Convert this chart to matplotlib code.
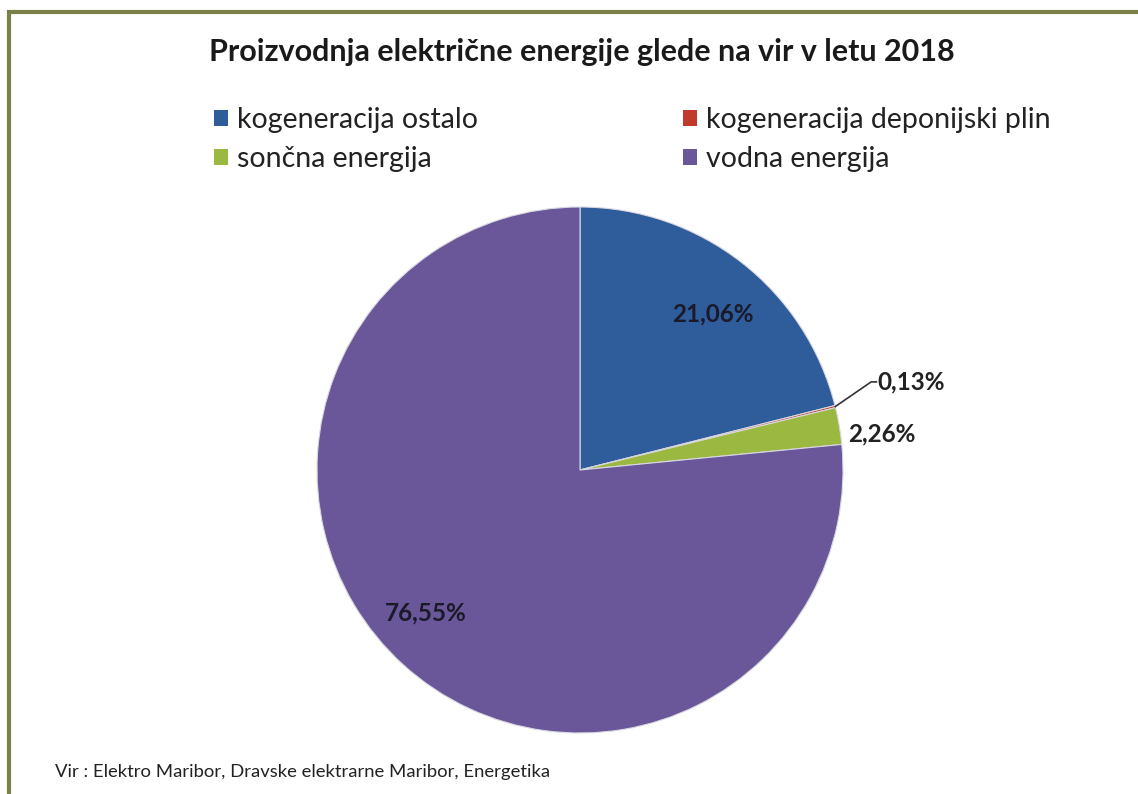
import numpy as np
import matplotlib
matplotlib.use("Agg")
import matplotlib.pyplot as plt
from matplotlib.patches import Rectangle, Patch

plt.rcParams['font.family'] = ['Lato', 'DejaVu Sans']

title = "Proizvodnja električne energije glede na vir v letu 2018"
categories = ["kogeneracija ostalo", "kogeneracija deponijski plin",
              "sončna energija", "vodna energija"]
values = [21.06, 0.13, 2.26, 76.55]
labels = ["21,06%", "0,13%", "2,26%", "76,55%"]
colors = ["#2f5d9c", "#c0392b", "#9bb840", "#6a5799"]
source = "Vir : Elektro Maribor, Dravske elektrarne Maribor, Energetika"

W, H = 1138, 794
fig = plt.figure(figsize=(W / 100, H / 100), dpi=100)
fig.patch.set_facecolor("white")

# chart border
fig.patches.append(Rectangle((9 / W, -0.05), 1.2, (H - 12) / H + 0.05,
                             transform=fig.transFigure, fill=False,
                             edgecolor="#7b8044", linewidth=3, zorder=0))

cx, cy, r = 580, 470, 263
ax = fig.add_axes([(cx - r) / W, (H - cy - r) / H, 2 * r / W, 2 * r / H])
wedges, _ = ax.pie(values, colors=colors, startangle=90, counterclock=False,
                   radius=1.0, wedgeprops=dict(edgecolor="#d8d8e0", linewidth=0.8))
ax.set_xlim(-1, 1)
ax.set_ylim(-1, 1)
ax.set_aspect("equal")
ax.axis("off")

cum = np.cumsum([0] + values[:-1])
mids = np.deg2rad(90 - (cum + np.array(values) / 2) * 3.6)

fs_lbl = 17.5
# inside labels (best-fit placement nudges)
nudges = {0: (0.019, -0.03), 3: (-0.057, 0.042)}
for i, (ddx, ddy) in nudges.items():
    ax.text(0.79 * np.cos(mids[i]) + ddx, 0.79 * np.sin(mids[i]) + ddy, labels[i],
            ha="center", va="center", fontsize=fs_lbl, fontweight="bold", color="#1a1a2a")
# 2.26% outside
ax.text(1.035 * np.cos(mids[2]), 1.03 * np.sin(mids[2]) - 0.037, labels[2],
        ha="left", va="center", fontsize=fs_lbl, fontweight="bold", color="#222222")
# 0.13% with leader
x0, y0 = np.cos(mids[1]), np.sin(mids[1])
x1, y1 = 1.12 * np.cos(mids[1]) + 0.02, 1.12 * np.sin(mids[1]) + 0.065
ax.plot([x0, x1, x1 + 0.02], [y0, y1, y1], color="#333333", lw=1.2, clip_on=False)
ax.text(x1 + 0.025, y1, labels[1], ha="left", va="center", fontsize=fs_lbl,
        fontweight="bold", color="#222222")

fig.text(582 / W, 1 - 52 / H, title, ha="center", va="center",
         fontsize=22, fontweight="bold", color="#1a1a1a")

order = [0, 2, 1, 3]  # row-wise reading order in the reference legend
handles = [Patch(facecolor=colors[i], edgecolor="none") for i in order]
leg = fig.legend(handles, [categories[i] for i in order], ncol=2, loc="upper left",
                 bbox_to_anchor=(214 / W, 1 - 107 / H), frameon=False,
                 fontsize=20.5, handlelength=0.5, handleheight=0.5,
                 handletextpad=0.3, columnspacing=7.2, labelspacing=0.45,
                 borderpad=0, borderaxespad=0)
for t in leg.get_texts():
    t.set_color("#222222")

fig.text(55 / W, 1 - 772 / H, source, ha="left", va="center",
         fontsize=13.3, color="#222222")

fig.savefig("out.png", dpi=100, facecolor="white")
